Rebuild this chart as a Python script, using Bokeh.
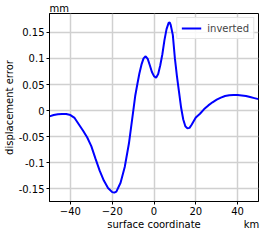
from bokeh.plotting import figure
from bokeh.models import (Range1d, FixedTicker, NumeralTickFormatter, LinearAxis,
                          CustomJSTickFormatter)
from bokeh.embed import file_html
from bokeh.resources import INLINE

# surface coordinate (km)
x_km = [-50, -48, -46, -44, -42, -40, -38, -36, -34, -32, -30, -28, -26, -24, -22,
        -20, -19, -18, -16, -14, -12, -10, -9, -8, -7, -6, -5, -4, -3, -2, -1,
        0, 1, 2, 3, 4, 5, 6, 7, 7.5, 8, 9, 10, 11, 12, 13, 14, 15, 16, 17, 18,
        20, 22, 24, 26, 28, 30, 32, 34, 36, 38, 40, 42, 44, 46, 48, 50]
# displacement error (mm), inverted
err_mm = [-0.011, -0.0085, -0.007, -0.0064, -0.0066, -0.0085, -0.014, -0.026, -0.038,
          -0.051, -0.068, -0.092, -0.115, -0.134, -0.148,
          -0.156, -0.157, -0.155, -0.138, -0.108, -0.063, -0.003, 0.028, 0.050, 0.071,
          0.088, 0.100, 0.104, 0.099, 0.087, 0.074,
          0.066, 0.063, 0.070, 0.087, 0.108, 0.135, 0.156, 0.168, 0.169, 0.164, 0.145,
          0.100, 0.065, 0.035, 0.005, -0.017, -0.030, -0.034, -0.033, -0.027,
          -0.013, -0.006, 0.003, 0.010, 0.016, 0.021, 0.025, 0.028, 0.0295, 0.030,
          0.030, 0.029, 0.028, 0.026, 0.024, 0.022]

x_ticks = [-40, -20, 0, 20, 40]
y_ticks = [-0.15, -0.1, -0.05, 0, 0.05, 0.1, 0.15]
x_title = "surface coordinate"
y_title = "displacement error"
x_unit = "km"
y_unit = "mm"

FONT = "DejaVu Sans"
X0, X1 = -50, 50
Y0, Y1 = -0.174, 0.186
KM_POS = 46.7   # centre of the "km" text, on the x scale

p = figure(width=260, height=232, output_backend="svg", toolbar_location=None,
           x_range=Range1d(X0, X1), y_range=Range1d(Y0, Y1),
           min_border_left=2, min_border_right=2, min_border_top=2, min_border_bottom=2)

p.line(x_km, err_mm, line_color="#0000ff", line_width=2, legend_label="inverted")

p.title.text = y_unit
p.title.align = "left"
p.title.text_font = FONT
p.title.text_font_size = "10px"
p.title.text_font_style = "normal"
p.title.text_color = "black"
p.title.standoff = 0
p.title.offset = 0

p.xaxis.ticker = FixedTicker(ticks=x_ticks)
p.yaxis.ticker = FixedTicker(ticks=y_ticks)
p.yaxis.formatter = NumeralTickFormatter(format="0.[00]")
p.yaxis.axis_label = y_title

for ax in (p.xaxis[0], p.yaxis[0]):
    ax.axis_line_color = "black"
    ax.major_tick_line_color = "black"
    ax.minor_tick_line_color = None
    ax.major_tick_out = 3
    ax.major_tick_in = 0
    ax.major_label_standoff = 2
    ax.axis_label_standoff = 1
    ax.major_label_text_font = FONT
    ax.major_label_text_font_size = "10px"
    ax.major_label_text_color = "black"
    ax.axis_label_text_font = FONT
    ax.axis_label_text_font_size = "10px"
    ax.axis_label_text_font_style = "normal"
    ax.axis_label_text_color = "black"

# second row under the x axis: axis title centred, unit at the right end
title_axis = LinearAxis(
    ticker=FixedTicker(ticks=[0, KM_POS]),
    formatter=CustomJSTickFormatter(args=dict(t=x_title, u=x_unit),
                                    code="return tick == 0 ? t : u;"),
    axis_line_color=None, major_tick_line_color=None, minor_tick_line_color=None,
    major_tick_in=0, major_tick_out=0, major_label_standoff=1,
    major_label_text_font=FONT, major_label_text_font_size="10px",
    major_label_text_color="black")
p.add_layout(title_axis, "below")

p.grid.grid_line_color = "#d0d0d0"
p.grid.grid_line_width = 1.5
p.outline_line_color = "black"
p.outline_line_width = 1
p.background_fill_color = "white"

p.legend.location = "top_right"
p.legend.margin = 4
p.legend.padding = 4
p.legend.spacing = 0
p.legend.glyph_width = 20
p.legend.glyph_height = 12
p.legend.label_height = 12
p.legend.label_standoff = 6
p.legend.label_text_font = FONT
p.legend.label_text_font_size = "10px"
p.legend.border_line_color = "#cccccc"
p.legend.background_fill_alpha = 0.85

open("out.html", "w").write(file_html(p, INLINE))
